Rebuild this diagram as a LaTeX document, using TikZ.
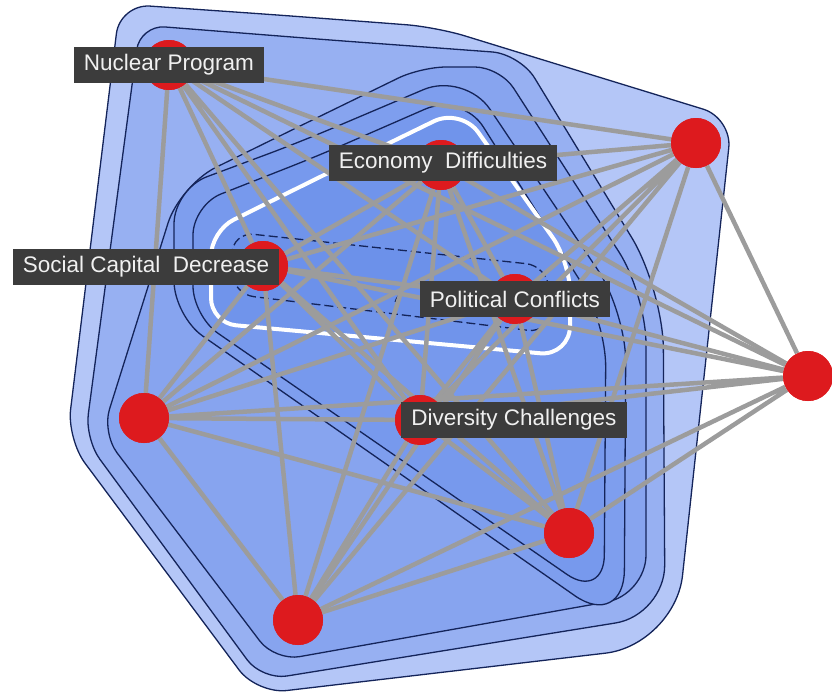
\documentclass[tikz,border=0pt]{standalone}
\usepackage{fontspec}
\setmainfont{Liberation Sans}
\usepackage{tikz}
\usepackage{xcolor}

\definecolor{fillA}{HTML}{B4C6F7}
\definecolor{fillB}{HTML}{97B0F2}
\definecolor{fillC}{HTML}{87A4EF}
\definecolor{fillD}{HTML}{7E9EEE}
\definecolor{fillE}{HTML}{7799ED}
\definecolor{fillF}{HTML}{7094EB}
\definecolor{fillG}{HTML}{6C91EA}
\definecolor{contourblue}{HTML}{14245A}
\definecolor{nodered}{HTML}{DD1A1E}
\definecolor{linkgray}{HTML}{9C9C9C}
\definecolor{tagbg}{HTML}{3C3C3C}
\definecolor{tagfg}{HTML}{F0F0F0}

\begin{document}
\begin{tikzpicture}[
  x=1pt, y=-1pt,
  hub/.style={
    circle,
    fill=nodered,
    minimum size=50pt,
    inner sep=0pt
  },
  tag/.style={
    fill=tagbg,
    text=tagfg,
    font=\fontsize{22.5}{27}\selectfont,
    minimum height=36pt,
    inner xsep=10pt,
    inner ysep=0pt
  },
  level/.style={draw=contourblue, line width=1.3pt},
  link/.style={draw=linkgray, line width=4.5pt}
]
  \useasboundingbox (0,0) rectangle (832,694);

  % density levels, outside in
  \filldraw[level, fill=fillA, rounded corners=30pt]
    (278,15) -- (436,27) -- (732,118) [rounded corners=70pt] -- (675,645)
    [rounded corners=30pt] -- (257,694) -- (67,439) -- (120,4) -- cycle;
  \filldraw[level, fill=fillB, rounded corners=28pt]
    (330,40) -- (520,54) [rounded corners=60pt] -- (663,289) [rounded corners=50pt] -- (665,615)
    [rounded corners=25pt] -- (262,680) -- (85,439) -- (140,25) -- cycle;
  \filldraw[level, fill=fillC, rounded corners=25pt]
    (300,126) -- (421,67) -- (500,67) [rounded corners=50pt] -- (646,294) [rounded corners=40pt] -- (646,595)
    [rounded corners=25pt] -- (275,661) -- (102,433) [rounded corners=40pt] -- (180,185) -- cycle;
  \filldraw[level, fill=fillD, rounded corners=45pt]
    (300,142) -- (465,72) [rounded corners=50pt] -- (626,312) [rounded corners=60pt] -- (624,630)
    [rounded corners=35pt] -- (174,316) -- (174,189) -- cycle;
  \filldraw[level, fill=fillE, rounded corners=40pt]
    (320,155) -- (462,93) [rounded corners=45pt] -- (606,322) -- (604,600)
    [rounded corners=30pt] -- (193,316) -- (193,205) -- cycle;
  \filldraw[draw=white, line width=4pt, fill=fillF, rounded corners=30pt]
    (330,172) -- (461,108) -- (570,262) -- (570,356) [rounded corners=25pt] -- (211,323) -- (211,231) -- cycle;
  \filldraw[level, dashed, dash pattern=on 9pt off 4pt, fill=fillG, rounded corners=22pt]
    (390,249) -- (548,266) -- (550,333) -- (232,294) -- (232,232) -- cycle;
  \node[text=contourblue, font=\fontsize{15}{15}\selectfont\itshape] (lvlseven) at (397,297) {7};

  % topics
  \node[hub] (nuclear) at (169,65) {};
  \node[hub] (economy) at (441,165) {};
  \node[hub] (topright) at (696,143) {};
  \node[hub] (social) at (263,266) {};
  \node[hub] (political) at (515,299) {};
  \node[hub] (farright) at (808,376) {};
  \node[hub] (left) at (144,418) {};
  \node[hub] (diversity) at (420,420) {};
  \node[hub] (bottomright) at (569,533) {};
  \node[hub] (bottom) at (298,620) {};

  % links
  \draw[link] (nuclear) -- (economy) (nuclear) -- (topright) (nuclear) -- (social)
    (nuclear) -- (political) (nuclear) -- (farright) (nuclear) -- (left)
    (nuclear) -- (diversity) (nuclear) -- (bottomright);
  \draw[link] (economy) -- (topright) (economy) -- (social) (economy) -- (political)
    (economy) -- (farright) (economy) -- (left) (economy) -- (diversity)
    (economy) -- (bottomright) (economy) -- (bottom);
  \draw[link] (topright) -- (social) (topright) -- (political) (topright) -- (farright)
    (topright) -- (left) (topright) -- (diversity) (topright) -- (bottomright)
    (topright) -- (bottom);
  \draw[link] (social) -- (political) (social) -- (farright) (social) -- (left)
    (social) -- (diversity) (social) -- (bottomright) (social) -- (bottom);
  \draw[link] (political) -- (farright) (political) -- (left) (political) -- (diversity)
    (political) -- (bottomright) (political) -- (bottom);
  \draw[link] (farright) -- (left) (farright) -- (diversity) (farright) -- (bottomright)
    (farright) -- (bottom);
  \draw[link] (left) -- (diversity) (left) -- (bottomright) (left) -- (bottom);
  \draw[link] (diversity) -- (bottomright) (diversity) -- (bottom);
  \draw[link] (bottomright) -- (bottom);

  % redraw the discs over the links
  \foreach \n in {nuclear, economy, topright, social, political, farright, left,
      diversity, bottomright, bottom}
    \fill[nodered] (\n.center) circle (25pt);

  % labels
  \node[tag] (nuclearlbl) at (169,65) {Nuclear Program};
  \node[tag] (economylbl) at (443,163) {Economy\ \ Difficulties};
  \node[tag] (sociallbl) at (146,267) {Social Capital\ \ Decrease};
  \node[tag] (politicallbl) at (515,299) {Political Conflicts};
  \node[tag] (diversitylbl) at (514,420) {Diversity Challenges};
\end{tikzpicture}
\end{document}
